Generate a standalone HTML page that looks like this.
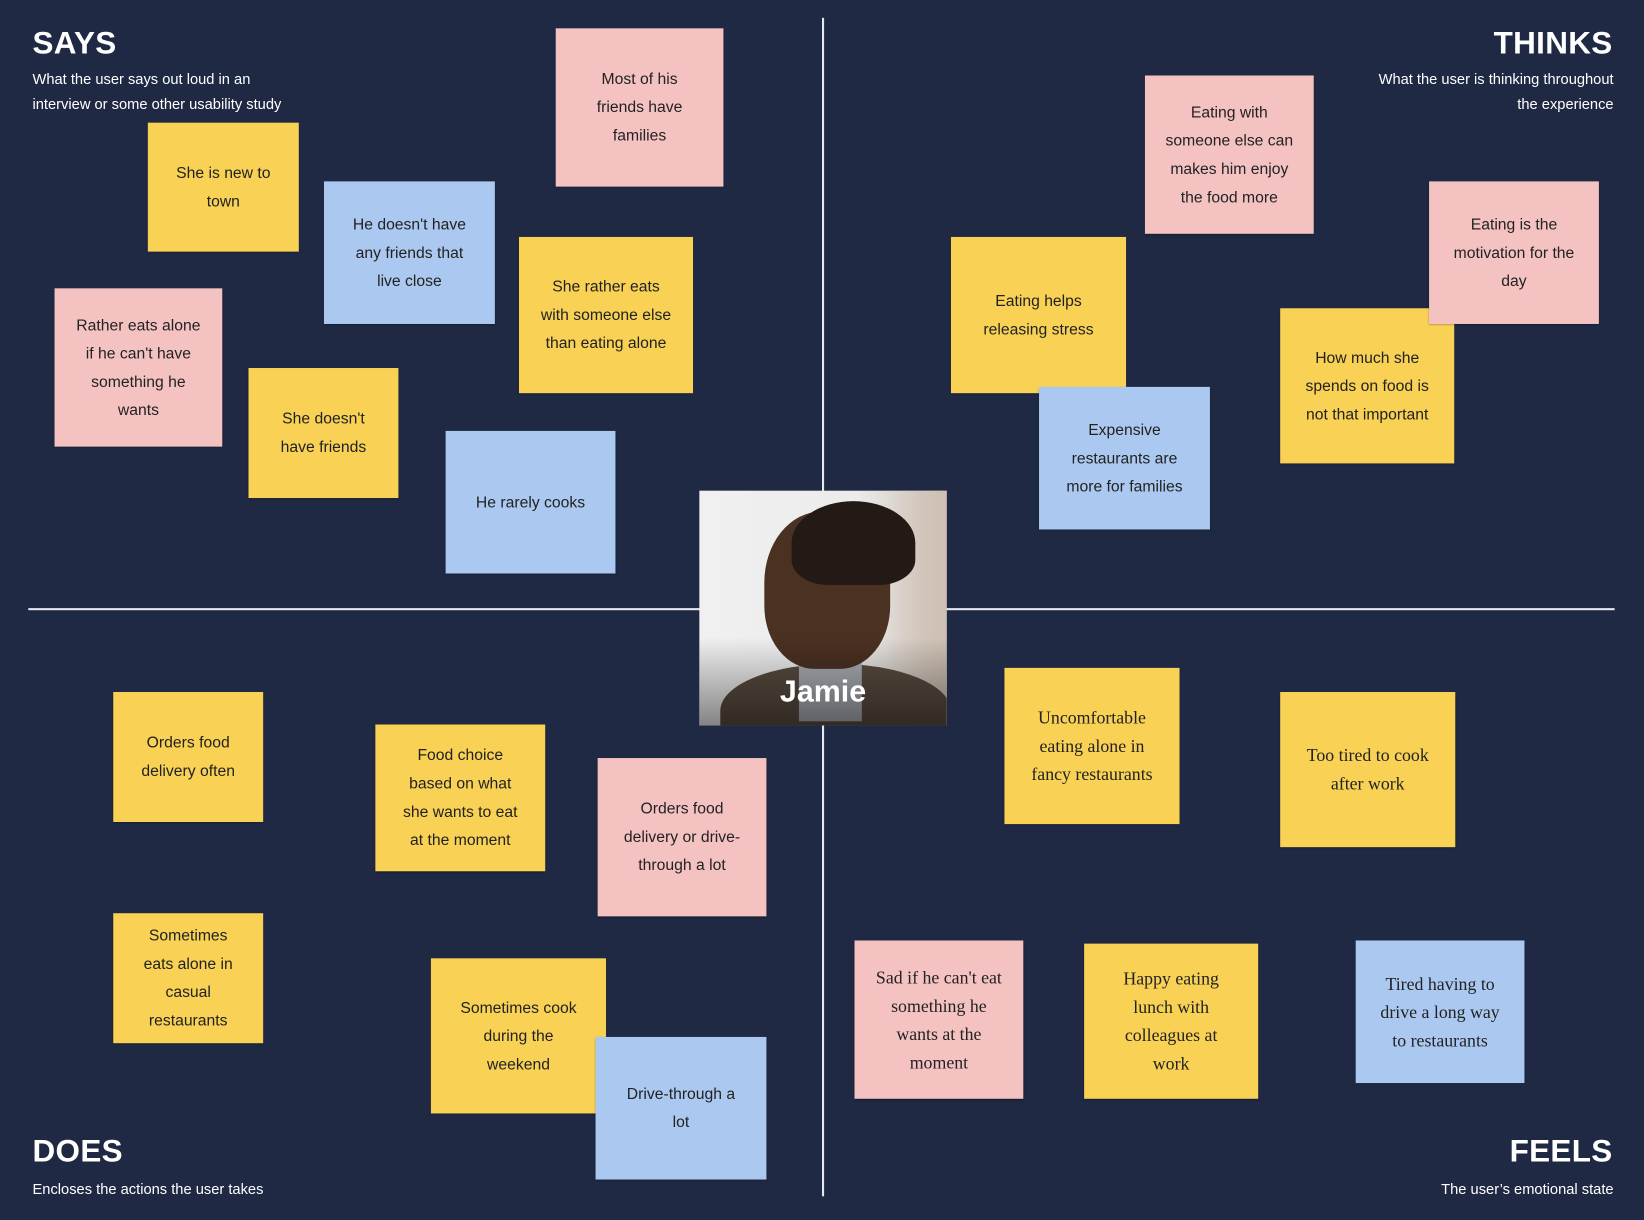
<!DOCTYPE html>
<html><head><meta charset="utf-8">
<style>
html,body{margin:0;padding:0;background:#1f2943;width:1644px;height:1220px;overflow:hidden}
#b{position:absolute;left:0;top:0;width:1568px;height:1164px;transform:scale(1.04847);transform-origin:0 0;font-family:"Liberation Sans",sans-serif}
.t{position:absolute;color:#fff;font-weight:bold;font-size:30px;letter-spacing:0.3px}
.s{position:absolute;color:#fff;font-size:14px;line-height:24px}
.n{position:absolute;display:flex;align-items:center;justify-content:center;text-align:center;font-size:15px;line-height:27px;color:#222;box-sizing:border-box;padding:0 20px;box-shadow:0 1px 2px rgba(0,0,0,.3)}
.y{background:#f8d155}.p{background:#f5c2c2}.bl{background:#abc9f0}
.sf{font-family:"Liberation Serif",serif;font-size:17px;padding:0 13px}
.l{position:absolute;background:#e6e8ee}
</style></head><body><div id="b">
<div class="l" style="left:784px;top:17px;width:1.5px;height:1124px"></div>
<div class="l" style="left:27px;top:580px;width:1513px;height:1.5px"></div>

<div class="t" style="left:31px;top:25px">SAYS</div>
<div class="s" style="left:31px;top:63px">What the user says out loud in an<br>interview or some other usability study</div>
<div class="t" style="right:30px;top:25px">THINKS</div>
<div class="s" style="right:29px;top:63px;text-align:right">What the user is thinking throughout<br>the experience</div>
<div class="t" style="left:31px;top:1082px">DOES</div>
<div class="s" style="left:31px;top:1122px">Encloses the actions the user takes</div>
<div class="t" style="right:30px;top:1082px">FEELS</div>
<div class="s" style="right:29px;top:1122px;text-align:right">The user’s emotional state</div>

<div class="n p" style="left:530px;top:27px;width:160px;height:151px">Most of his friends have families</div>
<div class="n y" style="left:141px;top:117px;width:144px;height:123px">She is new to town</div>
<div class="n bl" style="left:309px;top:173px;width:163px;height:136px">He doesn't have any friends that live close</div>
<div class="n y" style="left:495px;top:226px;width:166px;height:149px">She rather eats with someone else than eating alone</div>
<div class="n p" style="left:52px;top:275px;width:160px;height:151px">Rather eats alone if he can't have something he wants</div>
<div class="n y" style="left:237px;top:351px;width:143px;height:124px">She doesn't have friends</div>
<div class="n bl" style="left:425px;top:411px;width:162px;height:136px">He rarely cooks</div>

<div class="n p" style="left:1092px;top:72px;width:161px;height:151px;padding:0 14px">Eating with someone else can makes him enjoy the food more</div>
<div class="n y" style="left:907px;top:226px;width:167px;height:149px">Eating helps releasing stress</div>
<div class="n y" style="left:1221px;top:294px;width:166px;height:148px">How much she spends on food is not that important</div>
<div class="n p" style="left:1363px;top:173px;width:162px;height:136px">Eating is the motivation for the day</div>
<div class="n bl" style="left:991px;top:369px;width:163px;height:136px">Expensive restaurants are more for families</div>

<div class="n y" style="left:108px;top:660px;width:143px;height:124px">Orders food delivery often</div>
<div class="n y" style="left:358px;top:691px;width:162px;height:140px">Food choice based on what she wants to eat at the moment</div>
<div class="n p" style="left:570px;top:723px;width:161px;height:151px">Orders food delivery or drive-through a lot</div>
<div class="n y" style="left:108px;top:871px;width:143px;height:124px">Sometimes eats alone in casual restaurants</div>
<div class="n y" style="left:411px;top:914px;width:167px;height:148px">Sometimes cook during the weekend</div>
<div class="n bl" style="left:568px;top:989px;width:163px;height:136px">Drive-through a lot</div>

<div class="n y sf" style="left:958px;top:637px;width:167px;height:149px">Uncomfortable eating alone in fancy restaurants</div>
<div class="n y sf" style="left:1221px;top:660px;width:167px;height:148px">Too tired to cook after work</div>
<div class="n p sf" style="left:815px;top:897px;width:161px;height:151px;padding:0 14px">Sad if he can't eat something he wants at the moment</div>
<div class="n y sf" style="left:1034px;top:900px;width:166px;height:148px;padding:0 24px">Happy eating lunch with colleagues at work</div>
<div class="n bl sf" style="left:1293px;top:897px;width:161px;height:136px;padding:0 18px">Tired having to drive a long way to restaurants</div>

<div style="position:absolute;left:667px;top:468px;width:236px;height:224px;overflow:hidden;background:linear-gradient(90deg,#f0f0f0 0%,#ebebeb 75%,#d9cfc6 100%)">
 <div style="position:absolute;left:150px;top:0;width:86px;height:224px;background:linear-gradient(90deg,rgba(220,205,190,0) 0%,#cdbfb2 100%)"></div>
 <div style="position:absolute;left:20px;top:165px;width:220px;height:90px;border-radius:50% 50% 0 0;background:#5a4c40"></div>
 <div style="position:absolute;left:95px;top:150px;width:60px;height:70px;background:#a9adb3"></div>
 <div style="position:absolute;left:62px;top:20px;width:120px;height:150px;border-radius:45% 45% 40% 40%;background:#4a3122"></div>
 <div style="position:absolute;left:88px;top:10px;width:118px;height:80px;border-radius:50% 50% 30% 30%;background:#231a15"></div>
 <div style="position:absolute;left:0;top:140px;width:236px;height:84px;background:linear-gradient(180deg,rgba(0,0,0,0),rgba(0,0,0,.45))"></div>
 <div style="position:absolute;left:0;width:236px;top:176px;text-align:center;color:#fff;font-weight:bold;font-size:29px">Jamie</div>
</div>
</div></body></html>
